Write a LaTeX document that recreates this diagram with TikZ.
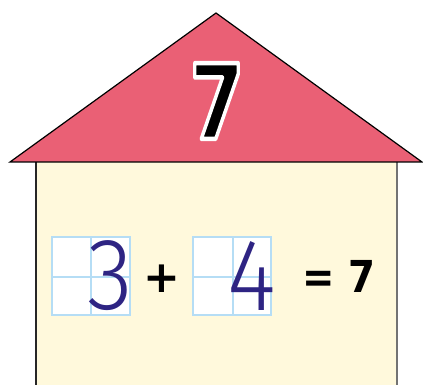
\documentclass[tikz,border=0pt]{standalone}
\usepackage{fontspec}
\newfontfamily\boldsans{DejaVu Sans}[BoldFont={DejaVu Sans Bold}]
\newfontfamily\thinsans{Fira Sans Light}
\definecolor{roof}{HTML}{EA6075}
\definecolor{wall}{HTML}{FFF9DC}
\definecolor{grid}{HTML}{B5DDF5}
\definecolor{ink}{HTML}{2E2483}
\newcommand\whiteoutline[1]{\special{pdf:literal direct 2 Tr 4.4 w 1 1 1 RG 1 j}#1\special{pdf:literal direct 0 Tr 1 w 0 0 0 RG}}
\tikzset{
  gridbox/.style={draw=grid, line width=1.6pt, fill=white},
  handdigit/.style={text=ink, font=\thinsans\fontsize{102}{102}\selectfont, inner sep=0pt, xscale=0.92},
  boldtxt/.style={font=\boldsans\bfseries\fontsize{44}{44}\selectfont, inner sep=0pt}
}
\begin{document}
\begin{tikzpicture}[x=1pt,y=-1pt]
\useasboundingbox (0,0) rectangle (423,385);
% wall
\fill[wall] (36,162) rectangle (397,385);
\draw[line width=1.2pt, black!85] (36,162) -- (36,385);
\draw[line width=1.6pt, black!55] (397,162) -- (397,385);
% roof
\coordinate (apex) at (216,13);
\coordinate (rl) at (10,162);
\coordinate (rr) at (422,162);
\draw[fill=roof, line width=1.2pt, line join=miter] (rl) -- (apex) -- (rr) -- cycle;
\node (seven) at (217,101) [font=\boldsans\bfseries\fontsize{104}{104}\selectfont, xscale=0.76, inner sep=0pt]
  {\whiteoutline{7}};
% boxes
\draw[gridbox] (52,237) rectangle (130,315);
\draw[grid, line width=1.4pt] (91,237) -- (91,315) (52,277) -- (130,277);
\draw[gridbox] (193,237) rectangle (271,315);
\draw[grid, line width=1.4pt] (233,237) -- (233,315) (193,277) -- (271,277);
\node[handdigit] (three) at (110.5,276) {3};
\node[handdigit] (four) at (251.5,276) {4};
\node[boldtxt] (plus) at (162,279) {+};
\node[boldtxt, xscale=0.88] (eq) at (339,276) {= 7};
\end{tikzpicture}
\end{document}
